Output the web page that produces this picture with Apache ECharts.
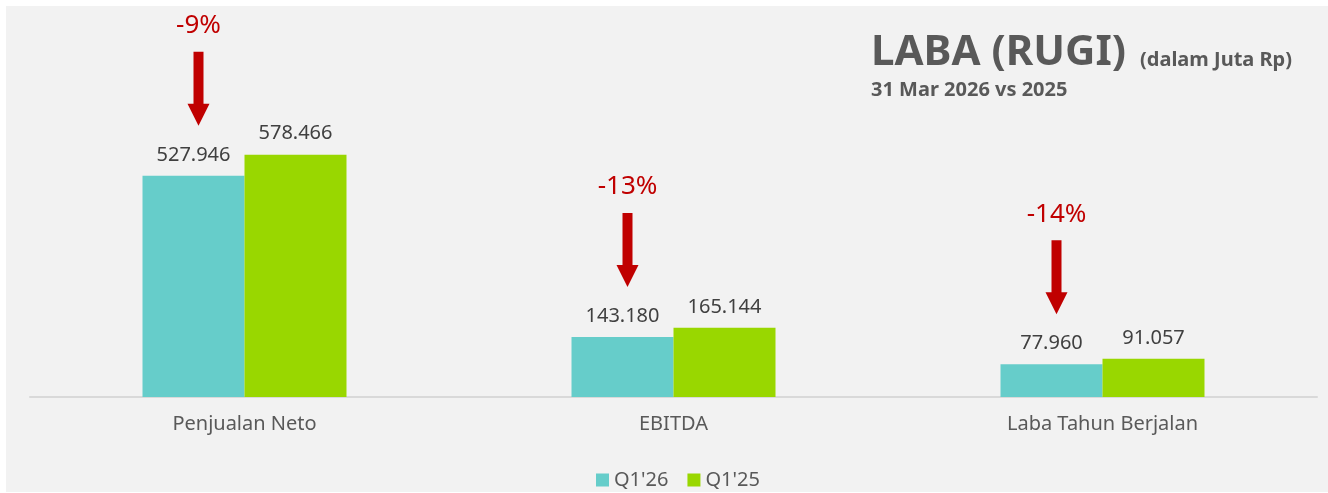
<!DOCTYPE html>
<html>
<head>
<meta charset="utf-8">
<script src="https://cdn.jsdelivr.net/npm/echarts@6/dist/echarts.min.js"></script>
<style>
  html, body { margin: 0; padding: 0; background: #fff; }
  #chart { width: 1328px; height: 493px; }
</style>
</head>
<body>
<div id="chart"></div>
<script>
// data (juta Rp)
var categories = ['Penjualan Neto', 'EBITDA', 'Laba Tahun Berjalan'];
var q126 = [527946, 143180, 77960];
var q125 = [578466, 165144, 91057];
var pctLabels = ['-9%', '-13%', '-14%'];
var legendNames = ["Q1'26", "Q1'25"];

var font = 'Noto Sans';
var barW = 102;

function fmt(v) {
    return String(v).replace(/\B(?=(\d{3})+(?!\d))/g, '.');
}

var mychart = echarts.init(document.getElementById('chart'));
mychart.setOption({
    animation: false,
    textStyle: { fontFamily: font },
    title: {
        left: 866,
        top: 27,
        text: '{a|LABA (RUGI)}{b|(dalam Juta Rp)}',
        textStyle: {
            rich: {
                a: { fontSize: 42, fontWeight: 'bold', color: '#595959', fontFamily: font },
                b: { fontSize: 20, fontWeight: 'bold', color: '#595959', fontFamily: font, padding: [14, 0, 0, 14] }
            }
        },
        subtext: '31 Mar 2026 vs 2025',
        subtextStyle: { fontSize: 20, fontWeight: 'bold', color: '#595959', fontFamily: font },
        itemGap: 6
    },
    graphic: [{
        type: 'rect',
        z: -10,
        shape: { x: 6, y: 6, width: 1322, height: 486 },
        style: { fill: '#f2f2f2' }
    }],
    legend: {
        left: 591,
        top: 465,
        itemWidth: 13,
        itemHeight: 13,
        itemGap: 19,
        icon: 'rect',
        data: legendNames,
        textStyle: { color: '#595959', fontSize: 20, fontFamily: font }
    },
    grid: {
        left: 30,
        right: 11,
        top: 20,
        bottom: 96
    },
    xAxis: {
        type: 'category',
        data: categories,
        axisLine: { show: true, lineStyle: { color: '#d9d9d9', width: 2 } },
        axisTick: { show: false },
        axisLabel: { color: '#595959', fontSize: 20, margin: 17, fontFamily: font }
    },
    yAxis: {
        type: 'value',
        min: 0,
        max: 900000,
        show: false,
        splitLine: { show: false }
    },
    series: [{
        name: legendNames[0],
        type: 'bar',
        barWidth: barW,
        barGap: '0%',
        itemStyle: { color: '#66cdca' },
        label: {
            show: true,
            position: 'top',
            distance: 11,
            color: '#404040',
            fontSize: 20,
            fontFamily: font,
            formatter: function (p) { return fmt(p.value); }
        },
        data: q126
    }, {
        name: legendNames[1],
        type: 'bar',
        barWidth: barW,
        barGap: '0%',
        itemStyle: { color: '#99d700' },
        label: {
            show: true,
            position: 'top',
            distance: 11,
            color: '#404040',
            fontSize: 20,
            fontFamily: font,
            formatter: function (p) { return fmt(p.value); }
        },
        data: q125
    }, {
        // panah penurunan di atas batang Q1'26
        type: 'custom',
        z: 5,
        silent: true,
        data: q126.map(function (v, i) { return [i, v]; }),
        encode: { x: 0, y: 1 },
        renderItem: function (params, api) {
            var pt = api.coord([api.value(0), api.value(1)]);
            var x = pt[0] - barW / 2 + 5;
            var tip = pt[1] - 50;
            var top = tip - 74;
            return {
                type: 'group',
                children: [{
                    type: 'polygon',
                    shape: {
                        points: [
                            [x - 5, top], [x + 5, top], [x + 5, tip - 22], [x + 11, tip - 22],
                            [x, tip], [x - 11, tip - 22], [x - 5, tip - 22]
                        ]
                    },
                    style: { fill: '#c00000' }
                }, {
                    type: 'text',
                    style: {
                        text: pctLabels[params.dataIndex],
                        x: x,
                        y: top - 26,
                        align: 'center',
                        verticalAlign: 'middle',
                        fill: '#c00000',
                        font: '26px "Noto Sans"'
                    }
                }]
            };
        }
    }]
});
</script>
</body>
</html>
